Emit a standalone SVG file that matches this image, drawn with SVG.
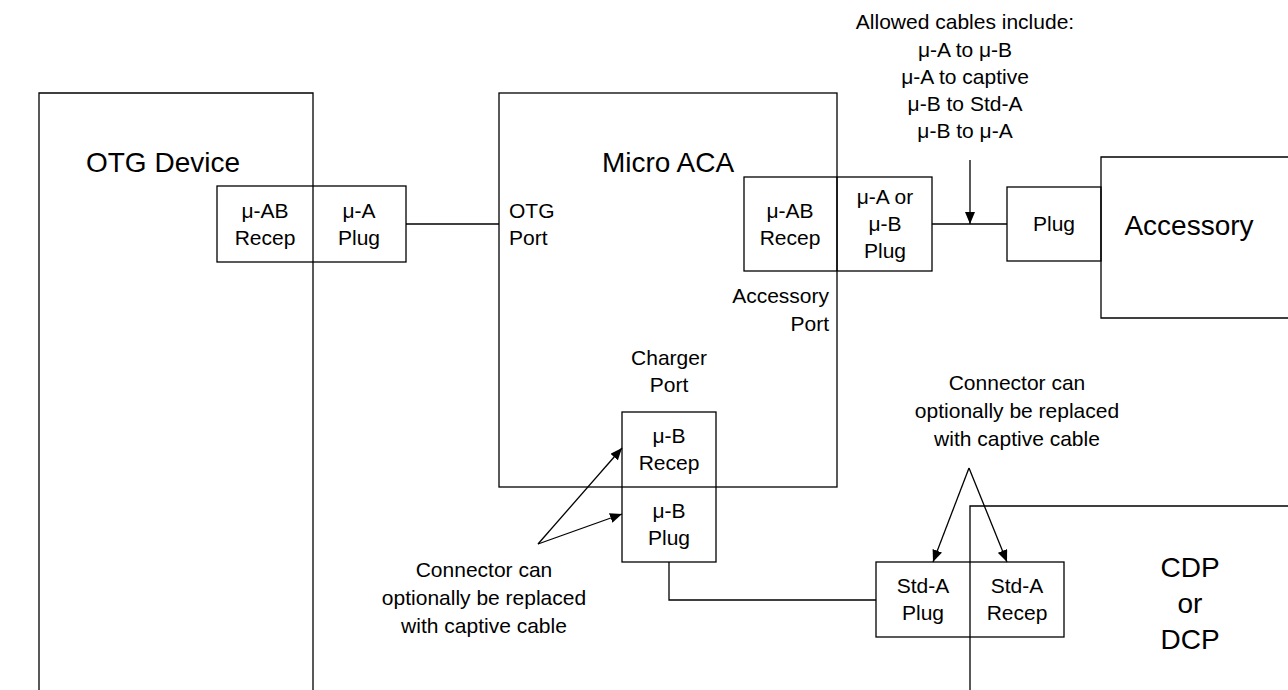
<svg xmlns="http://www.w3.org/2000/svg" width="1288" height="690" viewBox="0 0 1288 690">
<style>
.b{fill:none;stroke:#000;stroke-width:1.3}
.w{fill:#fff;stroke:#000;stroke-width:1.3}
.l{fill:none;stroke:#000;stroke-width:1.3}
text{font-family:"Liberation Sans",Arial,sans-serif;fill:#000}
.s{font-size:21px;text-anchor:middle}
.g{font-size:28px;text-anchor:middle}
</style>
<defs>
<marker id="ah" viewBox="0 0 12 10" refX="12" refY="5" markerWidth="12" markerHeight="10" markerUnits="userSpaceOnUse" orient="auto">
<path d="M0,0 L12,5 L0,10 Z" fill="#000"/>
</marker>
</defs>
<rect width="1288" height="690" fill="#fff"/>
<g id="otg-device">
<path class="b" d="M39,690 V93 H313 V690"/>
<text class="g" x="163" y="172">OTG Device</text>
</g>
<g id="micro-aca">
<rect class="b" x="499" y="93" width="338" height="394"/>
<text class="g" x="668" y="172">Micro ACA</text>
<text class="s" x="509" y="218" style="text-anchor:start">OTG</text>
<text class="s" x="509" y="245" style="text-anchor:start">Port</text>
<text class="s" x="829" y="303" style="text-anchor:end">Accessory</text>
<text class="s" x="829" y="331" style="text-anchor:end">Port</text>
<text class="s" x="669" y="365">Charger</text>
<text class="s" x="669" y="392">Port</text>
</g>
<g id="accessory">
<path class="b" d="M1288,157 H1101 V318 H1288"/>
<text class="g" x="1189" y="235">Accessory</text>
</g>
<g id="cdp">
<path class="b" d="M970,690 V506 H1288"/>
<text class="g" x="1190" y="577">CDP</text>
<text class="g" x="1190" y="613">or</text>
<text class="g" x="1190" y="649">DCP</text>
</g>
<g id="otg-connector">
<rect class="b" x="217" y="186" width="189" height="76"/>
<text class="s" x="265" y="218">μ-AB</text>
<text class="s" x="265" y="245">Recep</text>
<text class="s" x="359" y="218">μ-A</text>
<text class="s" x="359" y="245">Plug</text>
</g>
<g id="accessory-port-connector">
<rect class="b" x="744" y="177" width="188" height="94"/>
<line class="l" x1="837" y1="177" x2="837" y2="271"/>
<text class="s" x="790" y="218">μ-AB</text>
<text class="s" x="790" y="245">Recep</text>
<text class="s" x="885" y="204">μ-A or</text>
<text class="s" x="885" y="231">μ-B</text>
<text class="s" x="885" y="258">Plug</text>
</g>
<g id="accessory-plug">
<rect class="b" x="1007" y="187" width="94" height="74"/>
<text class="s" x="1054" y="231">Plug</text>
</g>
<g id="charger-connector">
<rect class="b" x="622" y="412" width="94" height="150"/>
<text class="s" x="669" y="443">μ-B</text>
<text class="s" x="669" y="470">Recep</text>
<text class="s" x="669" y="518">μ-B</text>
<text class="s" x="669" y="545">Plug</text>
</g>
<g id="std-a-connector">
<rect class="b" x="876" y="562" width="188" height="75"/>
<text class="s" x="923" y="593">Std-A</text>
<text class="s" x="923" y="620">Plug</text>
<text class="s" x="1017" y="593">Std-A</text>
<text class="s" x="1017" y="620">Recep</text>
</g>
<g id="note-cables">
<text class="s" x="965" y="29">Allowed cables include:</text>
<text class="s" x="965" y="57">μ-A to μ-B</text>
<text class="s" x="965" y="84">μ-A to captive</text>
<text class="s" x="965" y="111">μ-B to Std-A</text>
<text class="s" x="965" y="138">μ-B to μ-A</text>
</g>
<g id="note-captive-left">
<text class="s" x="484" y="577">Connector can</text>
<text class="s" x="484" y="605">optionally be replaced</text>
<text class="s" x="484" y="633">with captive cable</text>
</g>
<g id="note-captive-right">
<text class="s" x="1017" y="390">Connector can</text>
<text class="s" x="1017" y="418">optionally be replaced</text>
<text class="s" x="1017" y="446">with captive cable</text>
</g>
<g id="connectors">
<line class="l" x1="406" y1="224" x2="499" y2="224"/>
<line class="l" x1="932" y1="224" x2="1007" y2="224"/>
<polyline class="l" points="669,562 669,600 876,600"/>
<line class="l" x1="970" y1="160" x2="970" y2="224" marker-end="url(#ah)"/>
<line class="l" x1="538" y1="544" x2="622" y2="448" marker-end="url(#ah)"/>
<line class="l" x1="538" y1="544" x2="622" y2="514" marker-end="url(#ah)"/>
<line class="l" x1="969" y1="468" x2="933" y2="562" marker-end="url(#ah)"/>
<line class="l" x1="969" y1="468" x2="1007" y2="562" marker-end="url(#ah)"/>
</g>
</svg>
